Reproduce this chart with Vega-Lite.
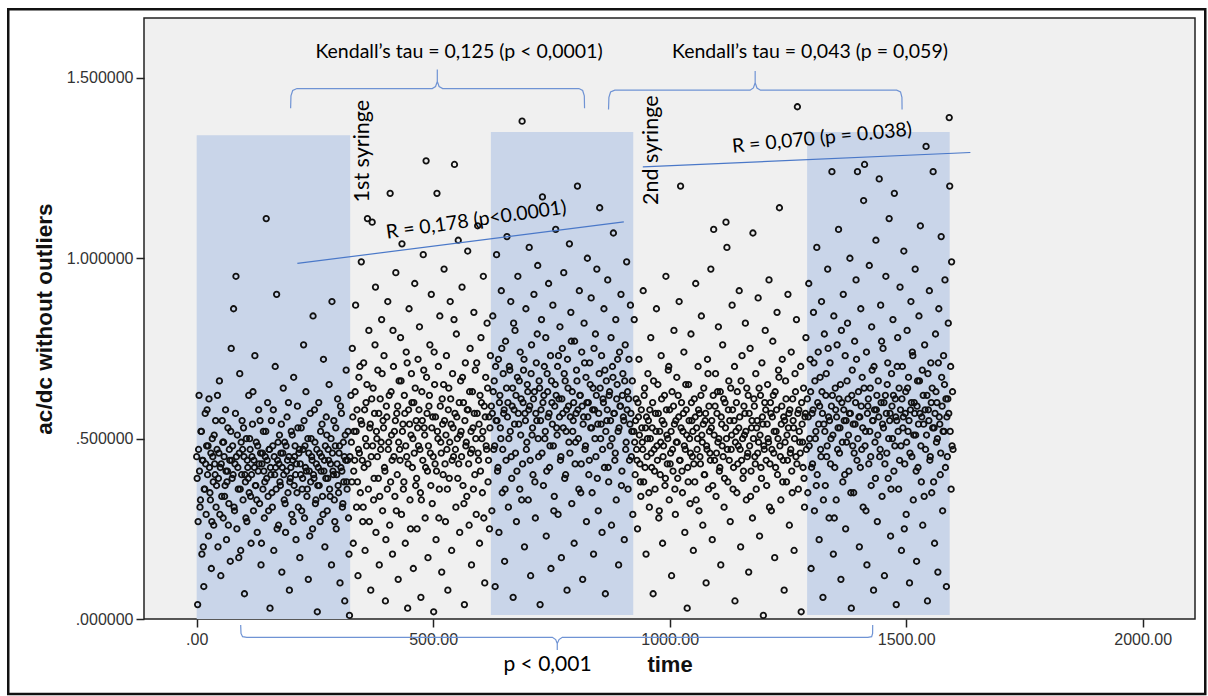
{
"$schema":"https://vega.github.io/schema/vega-lite/v6.json",
"width":1051,"height":601,
"autosize":"none",
"padding":{"left":144,"top":18,"right":13,"bottom":77},
"background":"white",
"config":{"view":{"fill":"#f0f0f0","stroke":"#222222","strokeWidth":1.5}},
"encoding":{
 "x":{"field":"t","type":"quantitative","title":"time","scale":{"domain":[-111.4,2110.6],"nice":false,"zero":false},
  "axis":{"values":[0,500,1000,1500,2000],"labelExpr":"datum.value==0 ? '.00' : format(datum.value,'.2f')","grid":false,"domain":false,"tickColor":"#222222","tickSize":8,"tickWidth":1.5,"labelPadding":4,"labelFont":"Liberation Sans","labelFontSize":16,"labelColor":"#333333","titleFont":"Liberation Sans","titleFontSize":22,"titleFontWeight":"bold","titleColor":"#111111","titlePadding":7}},
 "y":{"field":"v","type":"quantitative","title":"ac/dc without outliers","scale":{"domain":[0,1.666],"nice":false,"zero":false},
  "axis":{"values":[0,0.5,1,1.5],"labelExpr":"datum.value<1 ? slice(format(datum.value,'.6f'),1) : format(datum.value,'.6f')","grid":false,"domain":false,"tickColor":"#222222","tickSize":8,"tickWidth":1.5,"labelPadding":3,"labelFont":"Liberation Sans","labelFontSize":16,"labelColor":"#333333","titleFont":"Liberation Sans","titleFontSize":22.5,"titleFontWeight":"bold","titleColor":"#111111","titlePadding":10}}
},
"layer":[
 {"data":{"values":[{"t":0,"t2":324.5,"v":0,"v2":1.341},{"t":622,"t2":923,"v":0.011,"v2":1.35},{"t":1290.5,"t2":1592,"v":0.011,"v2":1.35}]},
  "mark":{"type":"rect","fill":"#c9d5e9"},
  "encoding":{"x2":{"field":"t2"},"y2":{"field":"v2"}}},
 {"data":{"values":[
{"t":0,"v":0.45},{"t":2,"v":0.04},{"t":3,"v":0.27},{"t":5,"v":0.62},{"t":6,"v":0.41},{"t":8,"v":0.33},{"t":10,"v":0.52},{"t":11,"v":0.18},{"t":13,"v":0.44},{"t":15,"v":0.09},{"t":16,"v":0.36},{"t":18,"v":0.57},{"t":20,"v":0.29},{"t":21,"v":0.48},{"t":23,"v":0.40},{"t":25,"v":0.23},{"t":26,"v":0.61},{"t":28,"v":0.35},{"t":30,"v":0.46},{"t":31,"v":0.14},{"t":33,"v":0.50},{"t":35,"v":0.38},{"t":36,"v":0.26},{"t":38,"v":0.43},{"t":40,"v":0.55},{"t":41,"v":0.31},{"t":43,"v":0.47},{"t":45,"v":0.20},{"t":46,"v":0.39},{"t":48,"v":0.66},{"t":50,"v":0.42},{"t":51,"v":0.12},{"t":53,"v":0.34},{"t":55,"v":0.49},{"t":56,"v":0.28},{"t":58,"v":0.45},{"t":60,"v":0.37},{"t":61,"v":0.58},{"t":63,"v":0.22},{"t":65,"v":0.41},{"t":66,"v":0.53},{"t":68,"v":0.32},{"t":70,"v":0.44},{"t":71,"v":0.16},{"t":73,"v":0.75},{"t":75,"v":0.39},{"t":76,"v":0.48},{"t":78,"v":0.86},{"t":80,"v":0.30},{"t":81,"v":0.43},{"t":83,"v":0.95},{"t":85,"v":0.25},{"t":86,"v":0.51},{"t":88,"v":0.36},{"t":90,"v":0.46},{"t":91,"v":0.68},{"t":93,"v":0.19},{"t":95,"v":0.40},{"t":96,"v":0.55},{"t":98,"v":0.33},{"t":100,"v":0.45},{"t":101,"v":0.07},{"t":103,"v":0.38},{"t":105,"v":0.50},{"t":106,"v":0.27},{"t":108,"v":0.42},{"t":110,"v":0.62},{"t":111,"v":0.35},{"t":113,"v":0.47},{"t":115,"v":0.21},{"t":116,"v":0.40},{"t":118,"v":0.54},{"t":120,"v":0.30},{"t":121,"v":0.44},{"t":123,"v":0.73},{"t":125,"v":0.37},{"t":126,"v":0.49},{"t":128,"v":0.24},{"t":130,"v":0.41},{"t":131,"v":0.58},{"t":133,"v":0.32},{"t":135,"v":0.46},{"t":136,"v":0.15},{"t":138,"v":0.43},{"t":140,"v":0.36},{"t":141,"v":0.52},{"t":143,"v":0.28},{"t":145,"v":0.45},{"t":147,"v":1.11},{"t":148,"v":0.39},{"t":150,"v":0.60},{"t":151,"v":0.34},{"t":153,"v":0.47},{"t":155,"v":0.03},{"t":156,"v":0.42},{"t":158,"v":0.55},{"t":160,"v":0.31},{"t":161,"v":0.48},{"t":163,"v":0.19},{"t":165,"v":0.40},{"t":166,"v":0.70},{"t":168,"v":0.36},{"t":169,"v":0.90},{"t":171,"v":0.44},{"t":173,"v":0.26},{"t":175,"v":0.51},{"t":176,"v":0.38},{"t":178,"v":0.46},{"t":180,"v":0.13},{"t":181,"v":0.42},{"t":183,"v":0.64},{"t":185,"v":0.33},{"t":186,"v":0.49},{"t":188,"v":0.24},{"t":190,"v":0.41},{"t":191,"v":0.56},{"t":193,"v":0.35},{"t":195,"v":0.45},{"t":196,"v":0.08},{"t":198,"v":0.39},{"t":200,"v":0.52},{"t":201,"v":0.29},{"t":203,"v":0.44},{"t":205,"v":0.67},{"t":206,"v":0.37},{"t":208,"v":0.48},{"t":210,"v":0.22},{"t":211,"v":0.43},{"t":213,"v":0.59},{"t":215,"v":0.31},{"t":216,"v":0.46},{"t":218,"v":0.17},{"t":220,"v":0.40},{"t":221,"v":0.53},{"t":223,"v":0.36},{"t":225,"v":0.47},{"t":226,"v":0.76},{"t":228,"v":0.28},{"t":230,"v":0.42},{"t":231,"v":0.63},{"t":233,"v":0.34},{"t":235,"v":0.50},{"t":236,"v":0.11},{"t":238,"v":0.41},{"t":240,"v":0.57},{"t":241,"v":0.38},{"t":243,"v":0.45},{"t":245,"v":0.25},{"t":246,"v":0.84},{"t":248,"v":0.39},{"t":250,"v":0.49},{"t":251,"v":0.32},{"t":253,"v":0.43},{"t":255,"v":0.02},{"t":256,"v":0.37},{"t":258,"v":0.60},{"t":260,"v":0.46},{"t":261,"v":0.27},{"t":263,"v":0.41},{"t":265,"v":0.54},{"t":266,"v":0.34},{"t":268,"v":0.72},{"t":270,"v":0.44},{"t":271,"v":0.20},{"t":273,"v":0.39},{"t":275,"v":0.51},{"t":276,"v":0.30},{"t":278,"v":0.47},{"t":280,"v":0.65},{"t":281,"v":0.36},{"t":283,"v":0.43},{"t":285,"v":0.15},{"t":286,"v":0.88},{"t":288,"v":0.41},{"t":290,"v":0.55},{"t":291,"v":0.33},{"t":293,"v":0.48},{"t":295,"v":0.25},{"t":296,"v":0.40},{"t":298,"v":0.61},{"t":300,"v":0.35},{"t":301,"v":0.46},{"t":303,"v":0.10},{"t":305,"v":0.42},{"t":306,"v":0.57},{"t":308,"v":0.31},{"t":310,"v":0.49},{"t":311,"v":0.38},{"t":313,"v":0.05},{"t":315,"v":0.44},{"t":316,"v":0.69},{"t":318,"v":0.36},{"t":320,"v":0.52},{"t":321,"v":0.28},{"t":323,"v":0.01},{"t":324,"v":0.45},
{"t":326,"v":0.62},{"t":328,"v":0.38},{"t":329,"v":0.75},{"t":331,"v":0.21},{"t":333,"v":0.52},{"t":334,"v":0.44},{"t":336,"v":0.87},{"t":338,"v":0.31},{"t":339,"v":0.58},{"t":341,"v":0.12},{"t":343,"v":0.67},{"t":344,"v":0.46},{"t":346,"v":0.35},{"t":348,"v":0.99},{"t":349,"v":0.54},{"t":351,"v":0.27},{"t":353,"v":0.71},{"t":354,"v":0.42},{"t":356,"v":0.19},{"t":358,"v":0.60},{"t":359,"v":0.48},{"t":361,"v":1.11},{"t":363,"v":0.36},{"t":364,"v":0.80},{"t":366,"v":0.53},{"t":368,"v":0.08},{"t":369,"v":0.45},{"t":371,"v":1.10},{"t":373,"v":0.64},{"t":374,"v":0.33},{"t":376,"v":0.57},{"t":378,"v":0.92},{"t":379,"v":0.24},{"t":381,"v":0.50},{"t":383,"v":0.69},{"t":384,"v":0.39},{"t":386,"v":0.15},{"t":388,"v":0.61},{"t":389,"v":0.47},{"t":391,"v":0.83},{"t":393,"v":0.30},{"t":394,"v":0.55},{"t":396,"v":0.73},{"t":398,"v":0.41},{"t":399,"v":0.05},{"t":401,"v":0.59},{"t":403,"v":0.36},{"t":404,"v":0.88},{"t":406,"v":0.49},{"t":408,"v":0.26},{"t":409,"v":1.18},{"t":411,"v":0.63},{"t":413,"v":0.44},{"t":414,"v":0.18},{"t":416,"v":0.70},{"t":418,"v":0.52},{"t":419,"v":0.34},{"t":421,"v":0.96},{"t":423,"v":0.57},{"t":424,"v":0.40},{"t":426,"v":0.11},{"t":428,"v":0.66},{"t":429,"v":0.47},{"t":431,"v":0.78},{"t":433,"v":0.29},{"t":434,"v":1.04},{"t":436,"v":0.54},{"t":438,"v":0.38},{"t":439,"v":0.62},{"t":441,"v":0.21},{"t":443,"v":0.74},{"t":444,"v":0.45},{"t":446,"v":0.03},{"t":448,"v":0.58},{"t":449,"v":0.86},{"t":451,"v":0.33},{"t":453,"v":0.51},{"t":454,"v":0.68},{"t":456,"v":0.42},{"t":458,"v":0.14},{"t":459,"v":0.60},{"t":461,"v":0.93},{"t":463,"v":0.37},{"t":464,"v":0.55},{"t":466,"v":0.25},{"t":468,"v":0.72},{"t":469,"v":0.48},{"t":471,"v":0.81},{"t":473,"v":0.35},{"t":474,"v":0.06},{"t":476,"v":0.63},{"t":478,"v":0.44},{"t":479,"v":1.01},{"t":481,"v":0.53},{"t":483,"v":0.28},{"t":485,"v":1.27},{"t":486,"v":0.67},{"t":488,"v":0.41},{"t":489,"v":0.17},{"t":491,"v":0.59},{"t":493,"v":0.76},{"t":494,"v":0.46},{"t":496,"v":0.90},{"t":498,"v":0.32},{"t":499,"v":0.56},{"t":501,"v":0.02},{"t":503,"v":0.65},{"t":504,"v":0.43},{"t":506,"v":0.22},{"t":508,"v":1.18},{"t":509,"v":0.52},{"t":511,"v":0.70},{"t":513,"v":0.36},{"t":514,"v":0.84},{"t":516,"v":0.49},{"t":518,"v":0.13},{"t":519,"v":0.61},{"t":521,"v":0.40},{"t":523,"v":0.97},{"t":524,"v":0.55},{"t":526,"v":0.27},{"t":528,"v":0.73},{"t":529,"v":0.47},{"t":531,"v":0.08},{"t":533,"v":0.64},{"t":534,"v":0.39},{"t":536,"v":0.88},{"t":538,"v":0.54},{"t":539,"v":0.19},{"t":541,"v":0.68},{"t":543,"v":0.45},{"t":545,"v":1.26},{"t":546,"v":0.57},{"t":548,"v":0.31},{"t":549,"v":0.79},{"t":551,"v":0.50},{"t":553,"v":1.05},{"t":554,"v":0.43},{"t":556,"v":0.24},{"t":558,"v":0.66},{"t":559,"v":0.52},{"t":561,"v":0.92},{"t":563,"v":0.37},{"t":564,"v":0.60},{"t":566,"v":0.04},{"t":568,"v":0.71},{"t":569,"v":0.48},{"t":571,"v":0.34},{"t":573,"v":1.02},{"t":574,"v":0.58},{"t":576,"v":0.26},{"t":578,"v":0.75},{"t":579,"v":0.46},{"t":581,"v":0.15},{"t":583,"v":0.63},{"t":584,"v":0.53},{"t":586,"v":0.85},{"t":588,"v":0.40},{"t":589,"v":0.69},{"t":591,"v":0.29},{"t":593,"v":0.57},{"t":594,"v":1.09},{"t":596,"v":0.44},{"t":598,"v":0.21},{"t":599,"v":0.62},{"t":601,"v":0.78},{"t":603,"v":0.50},{"t":604,"v":0.35},{"t":606,"v":0.95},{"t":608,"v":0.59},{"t":609,"v":0.10},{"t":611,"v":0.67},{"t":613,"v":0.47},{"t":614,"v":0.82},{"t":616,"v":0.38},{"t":618,"v":0.56},{"t":619,"v":0.25},{"t":621,"v":0.73},
{"t":623,"v":0.59},{"t":624,"v":0.30},{"t":626,"v":0.84},{"t":628,"v":0.47},{"t":629,"v":0.66},{"t":631,"v":0.09},{"t":633,"v":0.55},{"t":634,"v":1.01},{"t":636,"v":0.41},{"t":638,"v":0.72},{"t":639,"v":0.24},{"t":641,"v":0.62},{"t":643,"v":0.50},{"t":644,"v":0.91},{"t":646,"v":0.35},{"t":648,"v":0.68},{"t":649,"v":0.57},{"t":651,"v":0.16},{"t":653,"v":0.77},{"t":654,"v":0.44},{"t":656,"v":1.06},{"t":658,"v":0.60},{"t":659,"v":0.31},{"t":661,"v":0.70},{"t":663,"v":0.52},{"t":664,"v":0.88},{"t":666,"v":0.39},{"t":668,"v":0.64},{"t":669,"v":0.06},{"t":671,"v":0.58},{"t":673,"v":0.80},{"t":674,"v":0.46},{"t":676,"v":0.27},{"t":678,"v":0.67},{"t":679,"v":0.95},{"t":681,"v":0.54},{"t":683,"v":0.36},{"t":684,"v":0.74},{"t":686,"v":0.61},{"t":688,"v":1.38},{"t":689,"v":0.43},{"t":691,"v":0.69},{"t":693,"v":0.20},{"t":694,"v":0.57},{"t":696,"v":0.86},{"t":698,"v":0.49},{"t":699,"v":0.65},{"t":701,"v":0.33},{"t":703,"v":1.03},{"t":704,"v":0.59},{"t":706,"v":0.12},{"t":708,"v":0.76},{"t":709,"v":0.51},{"t":711,"v":0.40},{"t":713,"v":0.90},{"t":714,"v":0.63},{"t":716,"v":0.28},{"t":718,"v":0.71},{"t":719,"v":0.55},{"t":721,"v":0.98},{"t":723,"v":0.45},{"t":724,"v":0.66},{"t":726,"v":0.04},{"t":728,"v":0.58},{"t":729,"v":0.83},{"t":731,"v":1.17},{"t":733,"v":0.37},{"t":734,"v":0.62},{"t":736,"v":0.50},{"t":738,"v":0.78},{"t":739,"v":0.23},{"t":741,"v":0.68},{"t":743,"v":0.56},{"t":744,"v":0.93},{"t":746,"v":0.42},{"t":748,"v":0.73},{"t":749,"v":0.14},{"t":751,"v":0.60},{"t":753,"v":0.87},{"t":754,"v":0.48},{"t":756,"v":0.34},{"t":758,"v":0.65},{"t":759,"v":1.08},{"t":761,"v":0.53},{"t":763,"v":0.70},{"t":764,"v":0.29},{"t":766,"v":0.61},{"t":768,"v":0.81},{"t":769,"v":0.44},{"t":771,"v":0.17},{"t":773,"v":0.75},{"t":774,"v":0.57},{"t":776,"v":0.96},{"t":778,"v":0.39},{"t":779,"v":0.66},{"t":781,"v":0.52},{"t":783,"v":0.08},{"t":784,"v":0.72},{"t":786,"v":0.59},{"t":788,"v":1.04},{"t":789,"v":0.46},{"t":791,"v":0.85},{"t":793,"v":0.32},{"t":794,"v":0.63},{"t":796,"v":0.55},{"t":798,"v":0.21},{"t":799,"v":0.77},{"t":801,"v":0.49},{"t":803,"v":0.69},{"t":805,"v":1.20},{"t":806,"v":0.58},{"t":808,"v":0.36},{"t":809,"v":0.91},{"t":811,"v":0.62},{"t":813,"v":0.43},{"t":814,"v":0.74},{"t":816,"v":0.11},{"t":818,"v":0.56},{"t":819,"v":0.82},{"t":821,"v":0.47},{"t":823,"v":0.67},{"t":824,"v":0.27},{"t":826,"v":1.00},{"t":828,"v":0.60},{"t":829,"v":0.40},{"t":831,"v":0.71},{"t":833,"v":0.53},{"t":834,"v":0.89},{"t":836,"v":0.35},{"t":838,"v":0.64},{"t":839,"v":0.18},{"t":841,"v":0.58},{"t":843,"v":0.79},{"t":844,"v":0.45},{"t":846,"v":0.97},{"t":848,"v":0.54},{"t":849,"v":0.30},{"t":851,"v":0.68},{"t":852,"v":1.14},{"t":854,"v":0.50},{"t":856,"v":0.73},{"t":857,"v":0.24},{"t":859,"v":0.61},{"t":861,"v":0.86},{"t":862,"v":0.42},{"t":864,"v":0.07},{"t":866,"v":0.66},{"t":867,"v":0.55},{"t":869,"v":0.94},{"t":871,"v":0.38},{"t":872,"v":0.62},{"t":874,"v":0.48},{"t":876,"v":0.78},{"t":877,"v":0.26},{"t":879,"v":0.70},{"t":881,"v":1.07},{"t":882,"v":0.57},{"t":884,"v":0.44},{"t":886,"v":0.83},{"t":887,"v":0.33},{"t":889,"v":0.65},{"t":891,"v":0.52},{"t":892,"v":0.15},{"t":894,"v":0.74},{"t":896,"v":0.59},{"t":897,"v":0.90},{"t":899,"v":0.41},{"t":901,"v":0.68},{"t":902,"v":0.56},{"t":904,"v":0.22},{"t":906,"v":0.76},{"t":907,"v":0.47},{"t":909,"v":0.99},{"t":911,"v":0.63},{"t":912,"v":0.36},{"t":914,"v":0.72},{"t":916,"v":0.54},{"t":917,"v":0.87},{"t":919,"v":0.45},{"t":921,"v":0.66},{"t":922,"v":0.29},
{"t":924,"v":0.52},{"t":925,"v":0.83},{"t":927,"v":0.40},{"t":929,"v":0.61},{"t":930,"v":0.47},{"t":932,"v":0.25},{"t":934,"v":0.56},{"t":935,"v":0.72},{"t":937,"v":0.43},{"t":939,"v":0.34},{"t":940,"v":0.58},{"t":942,"v":0.49},{"t":944,"v":0.91},{"t":945,"v":0.38},{"t":947,"v":0.64},{"t":949,"v":0.53},{"t":950,"v":0.18},{"t":952,"v":0.45},{"t":954,"v":0.68},{"t":955,"v":0.55},{"t":957,"v":0.31},{"t":959,"v":0.50},{"t":960,"v":0.78},{"t":962,"v":0.42},{"t":964,"v":0.60},{"t":965,"v":0.07},{"t":967,"v":0.47},{"t":969,"v":0.36},{"t":970,"v":0.57},{"t":972,"v":0.86},{"t":974,"v":0.44},{"t":975,"v":0.65},{"t":977,"v":0.28},{"t":979,"v":0.52},{"t":980,"v":0.40},{"t":982,"v":0.73},{"t":984,"v":0.55},{"t":985,"v":0.21},{"t":987,"v":0.48},{"t":989,"v":0.62},{"t":990,"v":0.37},{"t":992,"v":0.95},{"t":994,"v":0.51},{"t":995,"v":0.43},{"t":997,"v":0.69},{"t":999,"v":0.33},{"t":1000,"v":0.58},{"t":1002,"v":0.46},{"t":1004,"v":0.12},{"t":1005,"v":0.63},{"t":1007,"v":0.41},{"t":1009,"v":0.80},{"t":1010,"v":0.54},{"t":1012,"v":0.29},{"t":1014,"v":0.49},{"t":1015,"v":0.67},{"t":1017,"v":0.39},{"t":1019,"v":0.56},{"t":1020,"v":0.88},{"t":1022,"v":0.44},{"t":1023,"v":1.20},{"t":1025,"v":0.60},{"t":1027,"v":0.35},{"t":1028,"v":0.52},{"t":1030,"v":0.74},{"t":1032,"v":0.24},{"t":1033,"v":0.47},{"t":1035,"v":0.58},{"t":1037,"v":0.03},{"t":1038,"v":0.42},{"t":1040,"v":0.65},{"t":1042,"v":0.50},{"t":1043,"v":0.32},{"t":1045,"v":0.79},{"t":1047,"v":0.55},{"t":1048,"v":0.45},{"t":1050,"v":0.19},{"t":1052,"v":0.61},{"t":1053,"v":0.38},{"t":1055,"v":0.93},{"t":1057,"v":0.53},{"t":1058,"v":0.47},{"t":1060,"v":0.70},{"t":1062,"v":0.30},{"t":1063,"v":0.57},{"t":1065,"v":0.43},{"t":1067,"v":0.84},{"t":1068,"v":0.51},{"t":1070,"v":0.26},{"t":1072,"v":0.64},{"t":1073,"v":0.40},{"t":1075,"v":0.55},{"t":1077,"v":0.10},{"t":1078,"v":0.48},{"t":1080,"v":0.72},{"t":1082,"v":0.36},{"t":1083,"v":0.59},{"t":1085,"v":0.46},{"t":1087,"v":0.97},{"t":1088,"v":0.53},{"t":1090,"v":0.22},{"t":1092,"v":0.62},{"t":1093,"v":1.08},{"t":1095,"v":0.44},{"t":1097,"v":0.68},{"t":1098,"v":0.34},{"t":1100,"v":0.57},{"t":1102,"v":0.49},{"t":1103,"v":0.81},{"t":1105,"v":0.41},{"t":1107,"v":0.63},{"t":1108,"v":0.15},{"t":1110,"v":0.54},{"t":1112,"v":0.76},{"t":1113,"v":0.45},{"t":1115,"v":0.31},{"t":1117,"v":0.60},{"t":1119,"v":1.10},{"t":1120,"v":0.50},{"t":1121,"v":1.03},{"t":1123,"v":0.38},{"t":1125,"v":0.66},{"t":1127,"v":0.55},{"t":1128,"v":0.27},{"t":1130,"v":0.47},{"t":1132,"v":0.87},{"t":1133,"v":0.58},{"t":1135,"v":0.42},{"t":1137,"v":0.70},{"t":1138,"v":0.05},{"t":1140,"v":0.52},{"t":1142,"v":0.35},{"t":1143,"v":0.63},{"t":1145,"v":0.48},{"t":1147,"v":0.91},{"t":1148,"v":0.56},{"t":1150,"v":0.20},{"t":1152,"v":0.44},{"t":1153,"v":0.73},{"t":1155,"v":0.39},{"t":1157,"v":0.59},{"t":1158,"v":0.51},{"t":1160,"v":0.82},{"t":1162,"v":0.33},{"t":1163,"v":0.64},{"t":1165,"v":0.46},{"t":1167,"v":0.13},{"t":1168,"v":0.57},{"t":1170,"v":0.75},{"t":1172,"v":0.41},{"t":1173,"v":0.53},{"t":1175,"v":0.28},{"t":1176,"v":1.07},{"t":1178,"v":0.61},{"t":1180,"v":0.45},{"t":1182,"v":0.68},{"t":1183,"v":0.36},{"t":1185,"v":0.55},{"t":1187,"v":0.89},{"t":1188,"v":0.49},{"t":1190,"v":0.23},{"t":1192,"v":0.62},{"t":1193,"v":0.42},{"t":1195,"v":0.71},{"t":1197,"v":0.54},{"t":1198,"v":0.01},{"t":1200,"v":0.47},{"t":1202,"v":0.80},{"t":1203,"v":0.58},{"t":1205,"v":0.37},{"t":1207,"v":0.65},{"t":1208,"v":0.50},{"t":1210,"v":0.94},{"t":1212,"v":0.43},{"t":1213,"v":0.60},{"t":1215,"v":0.30},{"t":1217,"v":0.56},{"t":1218,"v":0.77},{"t":1220,"v":0.46},{"t":1222,"v":0.17},{"t":1223,"v":0.63},{"t":1225,"v":0.52},{"t":1227,"v":0.85},{"t":1228,"v":0.40},{"t":1230,"v":0.69},{"t":1232,"v":1.14},{"t":1233,"v":0.48},{"t":1235,"v":0.33},{"t":1237,"v":0.59},{"t":1238,"v":0.72},{"t":1240,"v":0.44},{"t":1242,"v":0.08},{"t":1243,"v":0.55},{"t":1245,"v":0.66},{"t":1247,"v":0.38},{"t":1248,"v":0.51},{"t":1250,"v":0.90},{"t":1252,"v":0.57},{"t":1253,"v":0.26},{"t":1255,"v":0.46},{"t":1257,"v":0.74},{"t":1258,"v":0.41},{"t":1260,"v":0.61},{"t":1262,"v":0.53},{"t":1263,"v":0.19},{"t":1265,"v":0.68},{"t":1267,"v":0.45},{"t":1268,"v":0.83},{"t":1270,"v":1.42},{"t":1272,"v":0.36},{"t":1273,"v":0.58},{"t":1275,"v":0.49},{"t":1277,"v":0.70},{"t":1278,"v":0.02},{"t":1280,"v":0.54},{"t":1282,"v":0.42},{"t":1283,"v":0.64},{"t":1285,"v":0.31},{"t":1287,"v":0.57},{"t":1288,"v":0.78},{"t":1289,"v":0.47},
{"t":1291,"v":0.61},{"t":1292,"v":0.35},{"t":1294,"v":0.93},{"t":1296,"v":0.50},{"t":1297,"v":0.72},{"t":1299,"v":0.14},{"t":1301,"v":0.57},{"t":1302,"v":0.43},{"t":1304,"v":0.85},{"t":1306,"v":0.30},{"t":1307,"v":0.66},{"t":1309,"v":0.52},{"t":1311,"v":1.03},{"t":1312,"v":0.40},{"t":1314,"v":0.74},{"t":1316,"v":0.22},{"t":1317,"v":0.59},{"t":1319,"v":0.47},{"t":1321,"v":0.88},{"t":1322,"v":0.63},{"t":1324,"v":0.06},{"t":1326,"v":0.54},{"t":1327,"v":0.79},{"t":1329,"v":0.37},{"t":1331,"v":0.68},{"t":1332,"v":0.45},{"t":1334,"v":0.97},{"t":1336,"v":0.56},{"t":1337,"v":0.28},{"t":1339,"v":0.71},{"t":1341,"v":0.50},{"t":1343,"v":1.24},{"t":1344,"v":0.62},{"t":1346,"v":0.18},{"t":1347,"v":0.84},{"t":1349,"v":0.42},{"t":1351,"v":0.58},{"t":1352,"v":0.33},{"t":1354,"v":0.76},{"t":1356,"v":0.53},{"t":1357,"v":1.08},{"t":1359,"v":0.46},{"t":1361,"v":0.65},{"t":1362,"v":0.11},{"t":1364,"v":0.60},{"t":1366,"v":0.38},{"t":1367,"v":0.90},{"t":1369,"v":0.55},{"t":1371,"v":0.73},{"t":1372,"v":0.25},{"t":1374,"v":0.49},{"t":1376,"v":0.82},{"t":1377,"v":0.61},{"t":1379,"v":0.41},{"t":1381,"v":1.00},{"t":1382,"v":0.57},{"t":1384,"v":0.03},{"t":1386,"v":0.69},{"t":1387,"v":0.48},{"t":1389,"v":0.35},{"t":1391,"v":0.77},{"t":1392,"v":0.54},{"t":1394,"v":0.94},{"t":1396,"v":0.44},{"t":1397,"v":1.24},{"t":1399,"v":0.63},{"t":1401,"v":0.20},{"t":1402,"v":0.56},{"t":1404,"v":0.86},{"t":1406,"v":0.47},{"t":1407,"v":0.67},{"t":1409,"v":0.31},{"t":1410,"v":1.16},{"t":1412,"v":1.26},{"t":1414,"v":0.52},{"t":1416,"v":0.74},{"t":1417,"v":0.15},{"t":1419,"v":0.59},{"t":1421,"v":0.43},{"t":1422,"v":0.98},{"t":1424,"v":0.64},{"t":1426,"v":0.37},{"t":1427,"v":0.81},{"t":1429,"v":0.55},{"t":1431,"v":0.08},{"t":1432,"v":0.70},{"t":1434,"v":0.49},{"t":1436,"v":1.05},{"t":1437,"v":0.58},{"t":1439,"v":0.27},{"t":1441,"v":0.66},{"t":1443,"v":1.22},{"t":1444,"v":0.45},{"t":1446,"v":0.87},{"t":1447,"v":0.60},{"t":1449,"v":0.34},{"t":1451,"v":0.75},{"t":1452,"v":0.53},{"t":1454,"v":0.12},{"t":1456,"v":0.62},{"t":1457,"v":0.95},{"t":1459,"v":0.46},{"t":1461,"v":0.71},{"t":1462,"v":0.39},{"t":1464,"v":1.11},{"t":1466,"v":0.57},{"t":1467,"v":0.23},{"t":1469,"v":0.68},{"t":1471,"v":0.50},{"t":1472,"v":0.83},{"t":1474,"v":0.41},{"t":1475,"v":1.18},{"t":1477,"v":0.61},{"t":1479,"v":0.04},{"t":1480,"v":0.55},{"t":1482,"v":0.78},{"t":1484,"v":0.36},{"t":1485,"v":0.64},{"t":1487,"v":0.92},{"t":1489,"v":0.48},{"t":1490,"v":0.19},{"t":1492,"v":0.70},{"t":1494,"v":0.56},{"t":1495,"v":1.02},{"t":1497,"v":0.43},{"t":1499,"v":0.63},{"t":1500,"v":0.29},{"t":1502,"v":0.80},{"t":1504,"v":0.52},{"t":1505,"v":0.67},{"t":1507,"v":0.10},{"t":1509,"v":0.58},{"t":1510,"v":0.88},{"t":1512,"v":0.45},{"t":1514,"v":0.73},{"t":1515,"v":0.33},{"t":1517,"v":0.60},{"t":1519,"v":0.97},{"t":1520,"v":0.51},{"t":1522,"v":0.16},{"t":1524,"v":0.66},{"t":1525,"v":0.42},{"t":1527,"v":0.84},{"t":1529,"v":0.57},{"t":1530,"v":1.09},{"t":1532,"v":0.38},{"t":1534,"v":0.69},{"t":1535,"v":0.26},{"t":1537,"v":0.54},{"t":1539,"v":0.76},{"t":1541,"v":0.47},{"t":1542,"v":1.31},{"t":1544,"v":0.62},{"t":1545,"v":0.05},{"t":1547,"v":0.58},{"t":1549,"v":0.91},{"t":1550,"v":0.44},{"t":1552,"v":0.71},{"t":1554,"v":0.35},{"t":1555,"v":0.64},{"t":1557,"v":1.24},{"t":1559,"v":0.53},{"t":1560,"v":0.21},{"t":1562,"v":0.79},{"t":1564,"v":0.49},{"t":1565,"v":0.60},{"t":1567,"v":0.13},{"t":1569,"v":0.86},{"t":1570,"v":0.56},{"t":1572,"v":0.40},{"t":1574,"v":1.06},{"t":1575,"v":0.67},{"t":1577,"v":0.30},{"t":1579,"v":0.73},{"t":1580,"v":0.52},{"t":1582,"v":0.94},{"t":1584,"v":0.61},{"t":1585,"v":0.09},{"t":1587,"v":0.45},{"t":1589,"v":0.82},{"t":1590,"v":0.57},{"t":1591,"v":1.39},{"t":1592,"v":1.20},{"t":1594,"v":0.70},{"t":1595,"v":0.36},{"t":1596,"v":0.99},{"t":1597,"v":0.48},{"t":1598,"v":0.63},
{"t":1,"v":0.39},{"t":4,"v":0.47},{"t":7,"v":0.31},{"t":9,"v":0.52},{"t":12,"v":0.44},{"t":14,"v":0.20},{"t":17,"v":0.36},{"t":19,"v":0.43},{"t":22,"v":0.58},{"t":24,"v":0.48},{"t":27,"v":0.42},{"t":29,"v":0.33},{"t":32,"v":0.27},{"t":34,"v":0.45},{"t":37,"v":0.51},{"t":39,"v":0.40},{"t":42,"v":0.37},{"t":44,"v":0.62},{"t":47,"v":0.46},{"t":49,"v":0.29},{"t":52,"v":0.43},{"t":54,"v":0.55},{"t":57,"v":0.49},{"t":59,"v":0.34},{"t":62,"v":0.41},{"t":64,"v":0.38},{"t":67,"v":0.26},{"t":69,"v":0.47},{"t":72,"v":0.52},{"t":74,"v":0.44},{"t":77,"v":0.40},{"t":79,"v":0.31},{"t":82,"v":0.57},{"t":84,"v":0.45},{"t":87,"v":0.42},{"t":89,"v":0.17},{"t":92,"v":0.36},{"t":94,"v":0.49},{"t":97,"v":0.47},{"t":99,"v":0.53},{"t":102,"v":0.40},{"t":104,"v":0.28},{"t":107,"v":0.44},{"t":109,"v":0.39},{"t":112,"v":0.50},{"t":114,"v":0.34},{"t":117,"v":0.45},{"t":119,"v":0.63},{"t":122,"v":0.42},{"t":124,"v":0.37},{"t":127,"v":0.33},{"t":129,"v":0.48},{"t":132,"v":0.43},{"t":134,"v":0.55},{"t":137,"v":0.21},{"t":139,"v":0.46},{"t":142,"v":0.41},{"t":144,"v":0.38},{"t":146,"v":0.52},{"t":149,"v":0.44},{"t":152,"v":0.30},{"t":154,"v":0.47},{"t":157,"v":0.40},{"t":159,"v":0.35},{"t":162,"v":0.58},{"t":164,"v":0.45},{"t":167,"v":0.42},{"t":170,"v":0.25},{"t":172,"v":0.49},{"t":174,"v":0.43},{"t":177,"v":0.37},{"t":179,"v":0.54},{"t":182,"v":0.46},{"t":184,"v":0.40},{"t":187,"v":0.32},{"t":189,"v":0.48},{"t":192,"v":0.44},{"t":194,"v":0.60},{"t":197,"v":0.38},{"t":199,"v":0.42},{"t":202,"v":0.51},{"t":204,"v":0.27},{"t":207,"v":0.45},{"t":209,"v":0.40},{"t":212,"v":0.35},{"t":214,"v":0.53},{"t":217,"v":0.47},{"t":219,"v":0.43},{"t":222,"v":0.30},{"t":224,"v":0.39},{"t":227,"v":0.55},{"t":229,"v":0.48},{"t":232,"v":0.41},{"t":234,"v":0.36},{"t":237,"v":0.46},{"t":239,"v":0.23},{"t":242,"v":0.50},{"t":244,"v":0.44},{"t":247,"v":0.40},{"t":249,"v":0.58},{"t":252,"v":0.33},{"t":254,"v":0.47},{"t":257,"v":0.42},{"t":259,"v":0.37},{"t":262,"v":0.52},{"t":264,"v":0.45},{"t":267,"v":0.29},{"t":269,"v":0.41},{"t":272,"v":0.48},{"t":274,"v":0.56},{"t":277,"v":0.39},{"t":279,"v":0.44},{"t":282,"v":0.34},{"t":284,"v":0.50},{"t":287,"v":0.46},{"t":289,"v":0.40},{"t":292,"v":0.27},{"t":294,"v":0.53},{"t":297,"v":0.43},{"t":299,"v":0.37},{"t":302,"v":0.48},{"t":304,"v":0.59},{"t":307,"v":0.41},{"t":309,"v":0.32},{"t":312,"v":0.45},{"t":314,"v":0.51},{"t":317,"v":0.38},{"t":319,"v":0.44},{"t":322,"v":0.18},
{"t":327,"v":0.49},{"t":330,"v":0.56},{"t":332,"v":0.41},{"t":335,"v":0.63},{"t":337,"v":0.52},{"t":340,"v":0.38},{"t":342,"v":0.47},{"t":345,"v":0.70},{"t":347,"v":0.55},{"t":350,"v":0.44},{"t":352,"v":0.31},{"t":355,"v":0.58},{"t":357,"v":0.50},{"t":360,"v":0.65},{"t":362,"v":0.43},{"t":365,"v":0.27},{"t":367,"v":0.54},{"t":370,"v":0.61},{"t":372,"v":0.48},{"t":375,"v":0.39},{"t":377,"v":0.76},{"t":380,"v":0.52},{"t":382,"v":0.45},{"t":385,"v":0.57},{"t":387,"v":0.34},{"t":390,"v":0.49},{"t":392,"v":0.68},{"t":395,"v":0.53},{"t":397,"v":0.42},{"t":400,"v":0.22},{"t":402,"v":0.56},{"t":405,"v":0.47},{"t":407,"v":0.62},{"t":410,"v":0.38},{"t":412,"v":0.51},{"t":415,"v":0.80},{"t":417,"v":0.45},{"t":420,"v":0.55},{"t":422,"v":0.30},{"t":425,"v":0.59},{"t":427,"v":0.49},{"t":430,"v":0.44},{"t":432,"v":0.66},{"t":435,"v":0.52},{"t":437,"v":0.36},{"t":440,"v":0.57},{"t":442,"v":0.48},{"t":445,"v":0.71},{"t":447,"v":0.43},{"t":450,"v":0.54},{"t":452,"v":0.25},{"t":455,"v":0.60},{"t":457,"v":0.50},{"t":460,"v":0.46},{"t":462,"v":0.64},{"t":465,"v":0.39},{"t":467,"v":0.53},{"t":470,"v":0.58},{"t":472,"v":0.47},{"t":475,"v":0.33},{"t":477,"v":0.55},{"t":480,"v":0.69},{"t":482,"v":0.51},{"t":484,"v":0.42},{"t":487,"v":0.57},{"t":490,"v":0.48},{"t":492,"v":0.62},{"t":495,"v":0.37},{"t":497,"v":0.53},{"t":500,"v":0.45},{"t":502,"v":0.74},{"t":505,"v":0.56},{"t":507,"v":0.41},{"t":510,"v":0.50},{"t":512,"v":0.28},{"t":515,"v":0.59},{"t":517,"v":0.46},{"t":520,"v":0.54},{"t":522,"v":0.65},{"t":525,"v":0.43},{"t":527,"v":0.51},{"t":530,"v":0.36},{"t":532,"v":0.58},{"t":535,"v":0.49},{"t":537,"v":0.61},{"t":540,"v":0.44},{"t":542,"v":0.53},{"t":544,"v":0.83},{"t":547,"v":0.47},{"t":550,"v":0.56},{"t":552,"v":0.39},{"t":555,"v":0.60},{"t":557,"v":0.51},{"t":560,"v":0.45},{"t":562,"v":0.67},{"t":565,"v":0.32},{"t":567,"v":0.55},{"t":570,"v":0.49},{"t":572,"v":0.58},{"t":575,"v":0.43},{"t":577,"v":0.63},{"t":580,"v":0.52},{"t":582,"v":0.47},{"t":585,"v":0.36},{"t":587,"v":0.57},{"t":590,"v":0.50},{"t":592,"v":0.71},{"t":595,"v":0.46},{"t":597,"v":0.54},{"t":600,"v":0.41},{"t":602,"v":0.60},{"t":605,"v":0.52},{"t":607,"v":0.28},{"t":610,"v":0.56},{"t":612,"v":0.48},{"t":615,"v":0.64},{"t":617,"v":0.44},{"t":620,"v":0.53},
{"t":625,"v":0.57},{"t":627,"v":0.63},{"t":630,"v":0.48},{"t":632,"v":0.70},{"t":635,"v":0.55},{"t":637,"v":0.42},{"t":640,"v":0.60},{"t":642,"v":0.53},{"t":645,"v":0.75},{"t":647,"v":0.47},{"t":650,"v":0.58},{"t":652,"v":0.36},{"t":655,"v":0.64},{"t":657,"v":0.56},{"t":660,"v":0.50},{"t":662,"v":0.69},{"t":665,"v":0.45},{"t":667,"v":0.59},{"t":670,"v":0.82},{"t":672,"v":0.54},{"t":675,"v":0.62},{"t":677,"v":0.41},{"t":680,"v":0.57},{"t":682,"v":0.66},{"t":685,"v":0.51},{"t":687,"v":0.33},{"t":690,"v":0.60},{"t":692,"v":0.72},{"t":695,"v":0.55},{"t":697,"v":0.47},{"t":700,"v":0.63},{"t":702,"v":0.58},{"t":705,"v":0.44},{"t":707,"v":0.68},{"t":710,"v":0.53},{"t":712,"v":0.61},{"t":715,"v":0.38},{"t":717,"v":0.57},{"t":720,"v":0.79},{"t":722,"v":0.50},{"t":725,"v":0.64},{"t":727,"v":0.55},{"t":730,"v":0.46},{"t":732,"v":0.60},{"t":735,"v":0.70},{"t":737,"v":0.52},{"t":740,"v":0.41},{"t":742,"v":0.63},{"t":745,"v":0.57},{"t":747,"v":0.48},{"t":750,"v":0.66},{"t":752,"v":0.54},{"t":755,"v":0.30},{"t":757,"v":0.59},{"t":760,"v":0.62},{"t":762,"v":0.51},{"t":765,"v":0.73},{"t":767,"v":0.56},{"t":770,"v":0.45},{"t":772,"v":0.61},{"t":775,"v":0.53},{"t":777,"v":0.68},{"t":780,"v":0.40},{"t":782,"v":0.58},{"t":785,"v":0.64},{"t":787,"v":0.49},{"t":790,"v":0.56},{"t":792,"v":0.77},{"t":795,"v":0.52},{"t":797,"v":0.60},{"t":800,"v":0.43},{"t":802,"v":0.57},{"t":804,"v":0.66},{"t":807,"v":0.50},{"t":810,"v":0.62},{"t":812,"v":0.35},{"t":815,"v":0.59},{"t":817,"v":0.54},{"t":820,"v":0.71},{"t":822,"v":0.48},{"t":825,"v":0.60},{"t":827,"v":0.56},{"t":830,"v":0.44},{"t":832,"v":0.65},{"t":835,"v":0.53},{"t":837,"v":0.58},{"t":840,"v":0.75},{"t":842,"v":0.50},{"t":845,"v":0.62},{"t":847,"v":0.39},{"t":850,"v":0.57},{"t":853,"v":0.64},{"t":855,"v":0.54},{"t":858,"v":0.47},{"t":860,"v":0.60},{"t":863,"v":0.69},{"t":865,"v":0.52},{"t":868,"v":0.58},{"t":870,"v":0.42},{"t":873,"v":0.63},{"t":875,"v":0.55},{"t":878,"v":0.50},{"t":880,"v":0.67},{"t":883,"v":0.57},{"t":885,"v":0.46},{"t":888,"v":0.61},{"t":890,"v":0.72},{"t":893,"v":0.53},{"t":895,"v":0.59},{"t":898,"v":0.37},{"t":900,"v":0.62},{"t":903,"v":0.55},{"t":905,"v":0.66},{"t":908,"v":0.49},{"t":910,"v":0.58},{"t":913,"v":0.61},{"t":915,"v":0.44},{"t":918,"v":0.57},{"t":920,"v":0.52},
{"t":926,"v":0.49},{"t":928,"v":0.55},{"t":931,"v":0.44},{"t":933,"v":0.60},{"t":936,"v":0.51},{"t":938,"v":0.38},{"t":941,"v":0.53},{"t":943,"v":0.47},{"t":946,"v":0.62},{"t":948,"v":0.42},{"t":951,"v":0.56},{"t":953,"v":0.50},{"t":956,"v":0.35},{"t":958,"v":0.58},{"t":961,"v":0.46},{"t":963,"v":0.53},{"t":966,"v":0.66},{"t":968,"v":0.41},{"t":971,"v":0.52},{"t":973,"v":0.48},{"t":976,"v":0.57},{"t":978,"v":0.30},{"t":981,"v":0.49},{"t":983,"v":0.61},{"t":986,"v":0.45},{"t":988,"v":0.54},{"t":991,"v":0.39},{"t":993,"v":0.58},{"t":996,"v":0.50},{"t":998,"v":0.70},{"t":1001,"v":0.43},{"t":1003,"v":0.52},{"t":1006,"v":0.47},{"t":1008,"v":0.59},{"t":1011,"v":0.36},{"t":1013,"v":0.55},{"t":1016,"v":0.49},{"t":1018,"v":0.62},{"t":1021,"v":0.44},{"t":1024,"v":0.53},{"t":1026,"v":0.41},{"t":1029,"v":0.57},{"t":1031,"v":0.48},{"t":1034,"v":0.65},{"t":1036,"v":0.51},{"t":1039,"v":0.38},{"t":1041,"v":0.55},{"t":1044,"v":0.46},{"t":1046,"v":0.60},{"t":1049,"v":0.52},{"t":1051,"v":0.43},{"t":1054,"v":0.56},{"t":1056,"v":0.33},{"t":1059,"v":0.50},{"t":1061,"v":0.58},{"t":1064,"v":0.45},{"t":1066,"v":0.62},{"t":1069,"v":0.49},{"t":1071,"v":0.54},{"t":1074,"v":0.40},{"t":1076,"v":0.57},{"t":1079,"v":0.47},{"t":1081,"v":0.68},{"t":1084,"v":0.52},{"t":1086,"v":0.44},{"t":1089,"v":0.55},{"t":1091,"v":0.37},{"t":1094,"v":0.51},{"t":1096,"v":0.59},{"t":1099,"v":0.46},{"t":1101,"v":0.63},{"t":1104,"v":0.50},{"t":1106,"v":0.42},{"t":1109,"v":0.56},{"t":1111,"v":0.48},{"t":1114,"v":0.61},{"t":1116,"v":0.39},{"t":1118,"v":0.53},{"t":1122,"v":0.47},{"t":1124,"v":0.58},{"t":1126,"v":0.44},{"t":1129,"v":0.64},{"t":1131,"v":0.51},{"t":1134,"v":0.36},{"t":1136,"v":0.55},{"t":1139,"v":0.49},{"t":1141,"v":0.60},{"t":1144,"v":0.43},{"t":1146,"v":0.53},{"t":1149,"v":0.47},{"t":1151,"v":0.66},{"t":1154,"v":0.50},{"t":1156,"v":0.41},{"t":1159,"v":0.57},{"t":1161,"v":0.52},{"t":1164,"v":0.45},{"t":1166,"v":0.62},{"t":1169,"v":0.48},{"t":1171,"v":0.34},{"t":1174,"v":0.55},{"t":1177,"v":0.50},{"t":1179,"v":0.59},{"t":1181,"v":0.43},{"t":1184,"v":0.53},{"t":1186,"v":0.46},{"t":1189,"v":0.64},{"t":1191,"v":0.51},{"t":1194,"v":0.39},{"t":1196,"v":0.56},{"t":1199,"v":0.48},{"t":1201,"v":0.60},{"t":1204,"v":0.44},{"t":1206,"v":0.54},{"t":1209,"v":0.49},{"t":1211,"v":0.31},{"t":1214,"v":0.57},{"t":1216,"v":0.47},{"t":1219,"v":0.62},{"t":1221,"v":0.52},{"t":1224,"v":0.42},{"t":1226,"v":0.58},{"t":1229,"v":0.50},{"t":1231,"v":0.67},{"t":1234,"v":0.45},{"t":1236,"v":0.54},{"t":1239,"v":0.38},{"t":1241,"v":0.56},{"t":1244,"v":0.49},{"t":1246,"v":0.61},{"t":1249,"v":0.44},{"t":1251,"v":0.53},{"t":1254,"v":0.58},{"t":1256,"v":0.47},{"t":1259,"v":0.35},{"t":1261,"v":0.55},{"t":1264,"v":0.50},{"t":1266,"v":0.63},{"t":1269,"v":0.43},{"t":1271,"v":0.57},{"t":1274,"v":0.52},{"t":1276,"v":0.46},{"t":1279,"v":0.60},{"t":1281,"v":0.49},{"t":1284,"v":0.39},{"t":1286,"v":0.56},
{"t":1293,"v":0.56},{"t":1295,"v":0.48},{"t":1298,"v":0.63},{"t":1300,"v":0.42},{"t":1303,"v":0.58},{"t":1305,"v":0.71},{"t":1308,"v":0.50},{"t":1310,"v":0.37},{"t":1313,"v":0.60},{"t":1315,"v":0.54},{"t":1318,"v":0.67},{"t":1320,"v":0.45},{"t":1323,"v":0.57},{"t":1325,"v":0.33},{"t":1328,"v":0.52},{"t":1330,"v":0.62},{"t":1333,"v":0.48},{"t":1335,"v":0.75},{"t":1338,"v":0.55},{"t":1340,"v":0.43},{"t":1342,"v":0.59},{"t":1345,"v":0.51},{"t":1348,"v":0.28},{"t":1350,"v":0.64},{"t":1353,"v":0.56},{"t":1355,"v":0.47},{"t":1358,"v":0.61},{"t":1360,"v":0.53},{"t":1363,"v":0.80},{"t":1365,"v":0.49},{"t":1368,"v":0.58},{"t":1370,"v":0.40},{"t":1373,"v":0.55},{"t":1375,"v":0.66},{"t":1378,"v":0.51},{"t":1380,"v":0.57},{"t":1383,"v":0.35},{"t":1385,"v":0.62},{"t":1388,"v":0.54},{"t":1390,"v":0.46},{"t":1393,"v":0.60},{"t":1395,"v":0.72},{"t":1398,"v":0.50},{"t":1400,"v":0.56},{"t":1403,"v":0.42},{"t":1405,"v":0.59},{"t":1408,"v":0.53},{"t":1411,"v":0.64},{"t":1413,"v":0.48},{"t":1415,"v":0.30},{"t":1418,"v":0.57},{"t":1420,"v":0.61},{"t":1423,"v":0.52},{"t":1425,"v":0.45},{"t":1428,"v":0.69},{"t":1430,"v":0.55},{"t":1433,"v":0.58},{"t":1435,"v":0.39},{"t":1438,"v":0.62},{"t":1440,"v":0.51},{"t":1442,"v":0.56},{"t":1445,"v":0.47},{"t":1448,"v":0.77},{"t":1450,"v":0.54},{"t":1453,"v":0.60},{"t":1455,"v":0.43},{"t":1458,"v":0.57},{"t":1460,"v":0.65},{"t":1463,"v":0.50},{"t":1465,"v":0.55},{"t":1468,"v":0.36},{"t":1470,"v":0.59},{"t":1473,"v":0.62},{"t":1476,"v":0.48},{"t":1478,"v":0.56},{"t":1481,"v":0.70},{"t":1483,"v":0.52},{"t":1486,"v":0.44},{"t":1488,"v":0.58},{"t":1491,"v":0.61},{"t":1493,"v":0.53},{"t":1496,"v":0.25},{"t":1498,"v":0.57},{"t":1501,"v":0.49},{"t":1503,"v":0.64},{"t":1506,"v":0.55},{"t":1508,"v":0.46},{"t":1511,"v":0.60},{"t":1513,"v":0.74},{"t":1516,"v":0.51},{"t":1518,"v":0.57},{"t":1521,"v":0.41},{"t":1523,"v":0.59},{"t":1526,"v":0.54},{"t":1528,"v":0.66},{"t":1531,"v":0.48},{"t":1533,"v":0.56},{"t":1536,"v":0.62},{"t":1538,"v":0.34},{"t":1540,"v":0.58},{"t":1543,"v":0.51},{"t":1546,"v":0.68},{"t":1548,"v":0.55},{"t":1551,"v":0.45},{"t":1553,"v":0.60},{"t":1556,"v":0.53},{"t":1558,"v":0.38},{"t":1561,"v":0.57},{"t":1563,"v":0.63},{"t":1566,"v":0.50},{"t":1568,"v":0.71},{"t":1571,"v":0.54},{"t":1573,"v":0.46},{"t":1576,"v":0.59},{"t":1578,"v":0.52},{"t":1581,"v":0.65},{"t":1583,"v":0.42},{"t":1586,"v":0.56},{"t":1588,"v":0.61},{"t":1593,"v":0.52},{"t":1599,"v":0.47}
 ]},
  "mark":{"type":"point","shape":"circle","filled":false,"stroke":"#111111","strokeWidth":1.8,"size":30,"opacity":1}},
 {"data":{"values":[{"g":"a","t":212.8,"v":0.9856},{"g":"a","t":903,"v":1.1009},{"g":"b","t":943.2,"v":1.2533},{"g":"b","t":1635.7,"v":1.2932}]},
  "mark":{"type":"line","color":"#4a78c8","strokeWidth":1.2},
  "encoding":{"detail":{"field":"g"}}},
 {"data":{"values":[
{"g":"b1","o":1,"t":198.6,"v":1.416},{"g":"b1","o":2,"t":199.3,"v":1.45},{"g":"b1","o":3,"t":203,"v":1.465},{"g":"b1","o":4,"t":212,"v":1.4705},{"g":"b1","o":5,"t":498,"v":1.4705},{"g":"b1","o":6,"t":505,"v":1.476},{"g":"b1","o":7,"t":508.7,"v":1.49},{"g":"b1","o":8,"t":508.7,"v":1.523},{"g":"b1","o":9,"t":508.7,"v":1.49},{"g":"b1","o":10,"t":512.5,"v":1.476},{"g":"b1","o":11,"t":520,"v":1.4705},{"g":"b1","o":12,"t":808,"v":1.4705},{"g":"b1","o":13,"t":816,"v":1.465},{"g":"b1","o":14,"t":819.5,"v":1.45},{"g":"b1","o":15,"t":820,"v":1.416},
{"g":"b2","o":1,"t":870.7,"v":1.4123},{"g":"b2","o":2,"t":871.5,"v":1.446},{"g":"b2","o":3,"t":875,"v":1.461},{"g":"b2","o":4,"t":884,"v":1.4658},{"g":"b2","o":5,"t":1170,"v":1.4658},{"g":"b2","o":6,"t":1177,"v":1.472},{"g":"b2","o":7,"t":1180.7,"v":1.487},{"g":"b2","o":8,"t":1180.7,"v":1.519},{"g":"b2","o":9,"t":1180.7,"v":1.487},{"g":"b2","o":10,"t":1184.5,"v":1.472},{"g":"b2","o":11,"t":1192,"v":1.4658},{"g":"b2","o":12,"t":1480,"v":1.4658},{"g":"b2","o":13,"t":1488,"v":1.461},{"g":"b2","o":14,"t":1491,"v":1.446},{"g":"b2","o":15,"t":1491.3,"v":1.4123},
{"g":"b3","o":1,"t":93,"v":-0.0166},{"g":"b3","o":2,"t":93.7,"v":-0.04},{"g":"b3","o":3,"t":97,"v":-0.049},{"g":"b3","o":4,"t":106,"v":-0.0507},{"g":"b3","o":5,"t":752,"v":-0.0507},{"g":"b3","o":6,"t":759,"v":-0.057},{"g":"b3","o":7,"t":762.3,"v":-0.068},{"g":"b3","o":8,"t":762.3,"v":-0.086},{"g":"b3","o":9,"t":762.3,"v":-0.068},{"g":"b3","o":10,"t":766,"v":-0.057},{"g":"b3","o":11,"t":773,"v":-0.0507},{"g":"b3","o":12,"t":1419,"v":-0.0507},{"g":"b3","o":13,"t":1427,"v":-0.049},{"g":"b3","o":14,"t":1429,"v":-0.04},{"g":"b3","o":15,"t":1429.2,"v":-0.0166}
 ]},
  "mark":{"type":"line","color":"#6f93d4","strokeWidth":1.2,"clip":false},
  "encoding":{"detail":{"field":"g"},"order":{"field":"o"}}},
 {"data":{"values":[{"t":554.6,"v":1.571,"label":"Kendall’s tau = 0,125 (p < 0,0001)"},{"t":1296.5,"v":1.571,"label":"Kendall’s tau = 0,043 (p = 0,059)"}]},
  "mark":{"type":"text","font":"Lato","fontSize":19.5,"color":"#000000","align":"center","baseline":"middle"},
  "encoding":{"text":{"field":"label"}}},
 {"data":{"values":[{"t":741.8,"v":-0.1275,"label":"p < 0,001"}]},
  "mark":{"type":"text","font":"Lato","fontSize":21,"color":"#000000","align":"center","baseline":"middle","clip":false},
  "encoding":{"text":{"field":"label"}}},
 {"data":{"values":[{"t":350.8,"v":1.297,"label":"1st syringe"},{"t":962.6,"v":1.2995,"label":"2nd syringe"}]},
  "mark":{"type":"text","font":"Lato","fontSize":21.5,"color":"#000000","align":"center","baseline":"middle","angle":-90},
  "encoding":{"text":{"field":"label"}}},
 {"data":{"values":[{"t":591.1,"v":1.1056,"label":"R = 0,178 (p<0.0001)"}]},
  "mark":{"type":"text","font":"Lato","fontSize":19.5,"color":"#000000","align":"center","baseline":"middle","angle":-8},
  "encoding":{"text":{"field":"label"}}},
 {"data":{"values":[{"t":1321.9,"v":1.3328,"label":"R = 0,070 (p = 0.038)"}]},
  "mark":{"type":"text","font":"Lato","fontSize":19.5,"color":"#000000","align":"center","baseline":"middle","angle":-5.5},
  "encoding":{"text":{"field":"label"}}},
 {"data":{"values":[{"t":-398.4,"t2":2132.3,"v":-0.2078,"v2":1.69}]},
  "mark":{"type":"rect","fill":null,"fillOpacity":0,"stroke":"#111111","strokeWidth":2.5,"clip":false},
  "encoding":{"x2":{"field":"t2"},"y2":{"field":"v2"}}}
]
}
